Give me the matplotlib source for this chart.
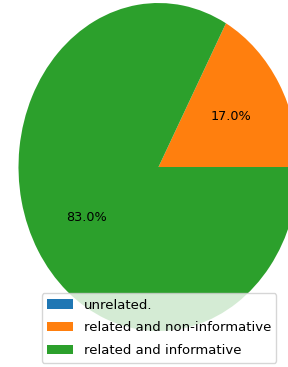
import matplotlib.pyplot as plt

# Data
labels = ["unrelated.", "related and non-informative", "related and informative"]
shares = [0.0, 17.0, 83.0]
colors = ["tab:blue", "tab:orange", "tab:green"]

fig = plt.figure(figsize=(2.88, 3.67), dpi=100)
ax = fig.add_axes([0, 0, 1, 1])

def show_pct(p):
    # hide the empty slice label
    return "{:.1f}%".format(p) if p > 0 else ""

wedges, texts, autotexts = ax.pie(shares, colors=colors, autopct=show_pct,
                                  startangle=0, textprops={"fontsize": 9.2})

# the original pie is stretched vertically and cropped
ax.set_aspect("auto")
ax.set_xlim(-158.5 / 140, 129.5 / 140)
ax.set_ylim(-200 / 164, 167 / 164)
ax.axis("off")

fig.legend(wedges, labels, loc="lower center", bbox_to_anchor=(0.552, 0.012),
           fontsize=9.5, borderaxespad=0.0, labelspacing=0.75)

fig.savefig("out.png", dpi=100)
